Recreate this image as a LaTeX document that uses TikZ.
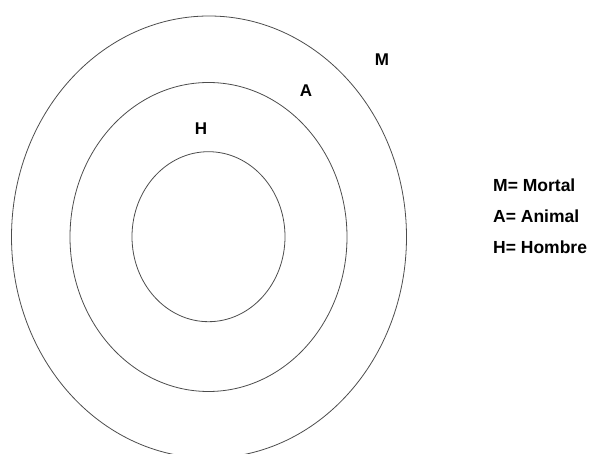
\documentclass[tikz,border=0pt]{standalone}
\usepackage{fontspec}
\setmainfont{Liberation Sans}
\usetikzlibrary{shapes.geometric}

\begin{document}
\begin{tikzpicture}[x=1pt,y=-1pt]
\tikzset{
  setring/.style={ellipse,draw=black!70,line width=0.8pt,inner sep=0pt},
  setlabel/.style={font=\fontsize{17}{20}\selectfont\bfseries,inner sep=0pt},
  legendtext/.style={font=\fontsize{17.5}{20}\selectfont\bfseries,anchor=west,inner sep=0pt}
}
\useasboundingbox (0,0) rectangle (595,454);
\node[setring,minimum width=395pt,minimum height=442pt] (ring_M) at (209,237) {};
\node[setring,minimum width=277pt,minimum height=309pt] (ring_A) at (208.5,237) {};
\node[setring,minimum width=153pt,minimum height=170pt] (ring_H) at (208.5,236.7) {};
\node[setlabel] (lbl_M) at (382,60) {M};
\node[setlabel] (lbl_A) at (306,91) {A};
\node[setlabel] (lbl_H) at (201,129) {H};
\node[legendtext] (key_M) at (493,185) {M= Mortal};
\node[legendtext] (key_A) at (493,216) {A= Animal};
\node[legendtext] (key_H) at (493,247) {H= Hombre};
\end{tikzpicture}
\end{document}
